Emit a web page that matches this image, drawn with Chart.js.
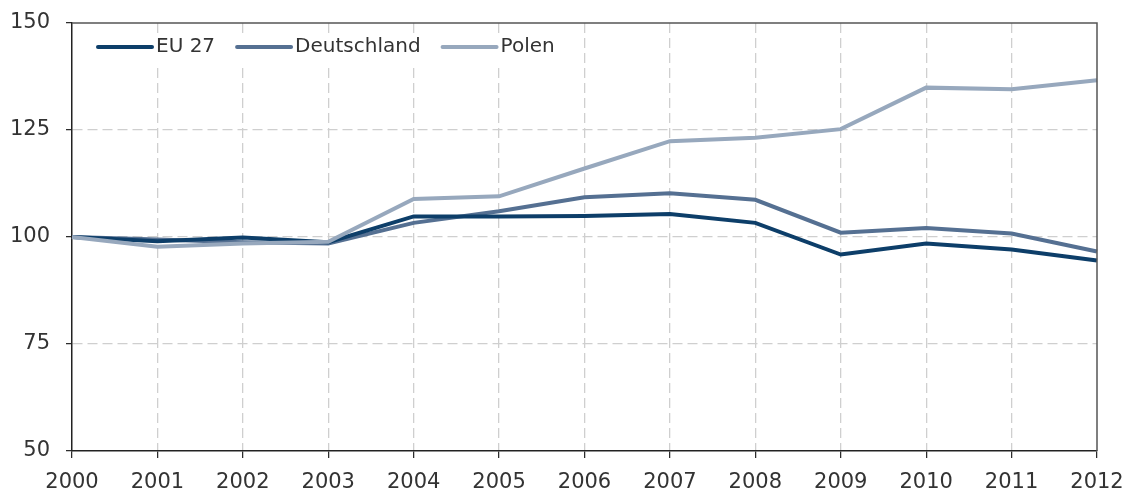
<!DOCTYPE html>
<html>
<head>
<meta charset="utf-8">
<script src="https://cdn.jsdelivr.net/npm/chart.js@4/dist/chart.umd.min.js"></script>
<style>
html,body{margin:0;padding:0;background:#fff;}
#wrap{width:1125px;height:491px;position:relative;}
</style>
</head>
<body>
<div id="wrap"><canvas id="c"></canvas></div>
<script>
const years = ['2000','2001','2002','2003','2004','2005','2006','2007','2008','2009','2010','2011','2012'];
const eu27 = [100, 99.0, 99.9, 98.8, 104.8, 104.8, 104.9, 105.4, 103.3, 95.9, 98.5, 97.1, 94.5];
const deutschland = [100, 99.4, 98.8, 98.5, 103.3, 106.0, 109.3, 110.2, 108.7, 101.0, 102.1, 100.8, 96.6];
const polen = [100, 97.7, 98.5, 98.9, 108.9, 109.5, 116.0, 122.4, 123.2, 125.2, 134.9, 134.5, 136.6];
const seriesNames = ['EU 27', 'Deutschland', 'Polen'];
const seriesColors = ['#0d3e69', '#557092', '#97a8bd'];

const FONT = 'DejaVu Sans';
const gridColor = '#cfcfcf';
const axisColor = '#222';

const legendPlugin = {
  id: 'insideLegend',
  afterDatasetsDraw(chart) {
    const ctx = chart.ctx;
    ctx.save();
    ctx.fillStyle = '#fff';
    ctx.fillRect(80, 33, 490, 30);
    ctx.font = '20px "' + FONT + '"';
    ctx.textBaseline = 'middle';
    ctx.textAlign = 'left';
    let x = 98;
    const y = 47;
    chart.data.datasets.forEach((ds) => {
      ctx.strokeStyle = ds.borderColor;
      ctx.lineWidth = 4;
      ctx.lineCap = 'round';
      ctx.beginPath();
      ctx.moveTo(x, y);
      ctx.lineTo(x + 54, y);
      ctx.stroke();
      x += 58;
      ctx.fillStyle = '#333';
      ctx.fillText(ds.label, x, y);
      x += ctx.measureText(ds.label).width + 22;
    });
    ctx.restore();
  }
};

const framePlugin = {
  id: 'frame',
  afterDraw(chart) {
    const a = chart.chartArea;
    const ctx = chart.ctx;
    ctx.save();
    ctx.strokeStyle = '#555';
    ctx.lineWidth = 1.5;
    ctx.beginPath();
    ctx.moveTo(a.left, a.top);
    ctx.lineTo(a.right, a.top);
    ctx.lineTo(a.right, a.bottom);
    ctx.stroke();
    ctx.restore();
  }
};

function noPad(s) { s.paddingTop = 0; s.paddingBottom = 0; s.paddingLeft = 0; s.paddingRight = 0; }

new Chart(document.getElementById('c'), {
  type: 'line',
  data: {
    labels: years,
    datasets: [
      { label: seriesNames[0], data: eu27, borderColor: seriesColors[0], backgroundColor: seriesColors[0], order: 1 },
      { label: seriesNames[1], data: deutschland, borderColor: seriesColors[1], backgroundColor: seriesColors[1], order: 2 },
      { label: seriesNames[2], data: polen, borderColor: seriesColors[2], backgroundColor: seriesColors[2], order: 0 }
    ]
  },
  options: {
    responsive: true,
    maintainAspectRatio: false,
    animation: false,
    layout: { autoPadding: false, padding: { top: 23, right: 28, left: 2, bottom: 0 } },
    elements: {
      line: { borderWidth: 4, tension: 0, borderJoinStyle: 'miter' },
      point: { radius: 0, hoverRadius: 0 }
    },
    plugins: { legend: { display: false }, tooltip: { enabled: false } },
    scales: {
      x: {
        grid: {
          color: (c) => (c.index === 0 || c.index === years.length - 1) ? 'rgba(0,0,0,0)' : gridColor,
          lineWidth: 1.3,
          tickColor: axisColor,
          tickLength: 7,
          tickWidth: 1.2
        },
        border: { display: true, color: axisColor, width: 1.5, dash: [10, 5] },
        ticks: { color: '#333', font: { family: FONT, size: 21 }, padding: 12, maxRotation: 0, autoSkip: false },
        afterFit: (s) => { s.height = 40; noPad(s); }
      },
      y: {
        min: 50, max: 150,
        ticks: { stepSize: 25, color: '#333', font: { family: FONT, size: 21 }, padding: 16 },
        grid: {
          color: (c) => (c.tick && (c.tick.value === 50 || c.tick.value === 150)) ? 'rgba(0,0,0,0)' : gridColor,
          lineWidth: 1.3,
          tickColor: axisColor,
          tickLength: 6,
          tickWidth: 1.2
        },
        border: { display: true, color: axisColor, width: 1.5, dash: [10, 5] },
        afterFit: (s) => { s.width = 70; noPad(s); }
      }
    }
  },
  plugins: [legendPlugin, framePlugin]
});
</script>
</body>
</html>
